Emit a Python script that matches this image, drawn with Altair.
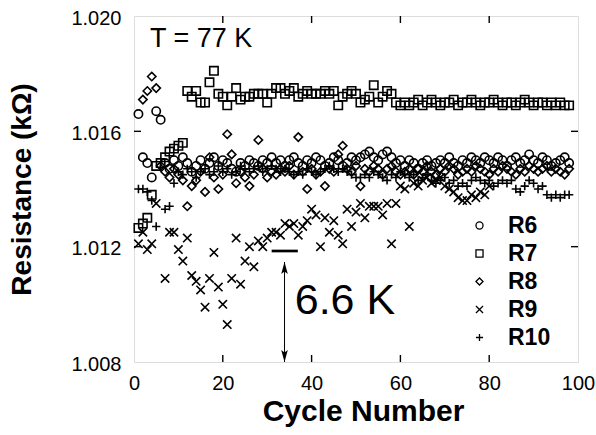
import altair as alt
import pandas as pd

cycles = list(range(1, 99))
series_names = ["R6", "R7", "R8", "R9", "R10"]

r6 = [1.0166, 1.0151, 1.0149, 1.0144, 1.0167, 1.0164, 1.0149, 1.0147, 1.0150, 1.0148,
      1.0151, 1.0149, 1.0146, 1.0148, 1.0150, 1.0147, 1.0149, 1.0151, 1.0148, 1.0150,
      1.0149, 1.0147, 1.0146, 1.0149, 1.0148, 1.0150, 1.0149, 1.0148, 1.0150, 1.0149,
      1.0151, 1.0149, 1.0150, 1.0148, 1.0150, 1.0151, 1.0149, 1.0148, 1.0150, 1.0149,
      1.0151, 1.0150, 1.0148, 1.0149, 1.0151, 1.0150, 1.0148, 1.0149, 1.0151, 1.0150,
      1.0151, 1.0152, 1.0153, 1.0151, 1.0150, 1.0152, 1.0153, 1.0151, 1.0149, 1.0150,
      1.0148, 1.0150, 1.0149, 1.0147, 1.0149, 1.0150, 1.0148, 1.0149, 1.0150, 1.0149,
      1.0151, 1.0149, 1.0148, 1.0150, 1.0149, 1.0151, 1.0150, 1.0149, 1.0151, 1.0150,
      1.0149, 1.0151, 1.0150, 1.0148, 1.0150, 1.0151, 1.0149, 1.0150, 1.0152, 1.0150,
      1.0149, 1.0151, 1.0150, 1.0148, 1.0149, 1.0150, 1.0151, 1.0149]

r7 = [1.01265, 1.0128, 1.0130, 1.0138, 1.0148, 1.0149, 1.0151, 1.0153, 1.0154, 1.0155,
      1.0156, 1.0174, 1.0172, 1.0174, 1.0170, 1.0170, 1.0177, 1.0181, 1.0173, 1.0172,
      1.0169, 1.0172, 1.0175, 1.0171, 1.0172, 1.0172, 1.0173, 1.0173, 1.0173, 1.0170,
      1.0173, 1.0175, 1.0175, 1.0173, 1.0174, 1.0175, 1.0172, 1.0173, 1.0174, 1.0173,
      1.0173, 1.0173, 1.0174, 1.0173, 1.0174, 1.0169, 1.0172, 1.0173, 1.0174, 1.0173,
      1.0170, 1.0171, 1.0172, 1.0176, 1.0170, 1.0172, 1.0174, 1.0173, 1.0170, 1.0169,
      1.0170, 1.0169, 1.0170, 1.0171, 1.0169, 1.0170, 1.0171, 1.0170, 1.0169, 1.0170,
      1.0170, 1.0171, 1.0169, 1.0170, 1.0170, 1.0171, 1.0170, 1.0169, 1.0170, 1.0170,
      1.0171, 1.0170, 1.0169, 1.0170, 1.0170, 1.0169, 1.0170, 1.0171, 1.0170, 1.0169,
      1.0170, 1.0170, 1.0169, 1.0170, 1.0169, 1.0170, 1.0169, 1.0169]

r8 = [None, 1.0171, 1.0174, 1.0179, 1.0175, 1.0148, 1.0146, 1.0144, 1.0147, 1.0145,
      1.0143, 1.0134, 1.0141, 1.0143, 1.0146, 1.0139, 1.0151, 1.0144, 1.0140, 1.0145,
      1.0159, 1.0152, 1.0142, 1.0146, 1.0144, 1.0141, 1.0145, 1.0157, 1.0147, 1.0144,
      1.0146, 1.0145, 1.0147, 1.0146, 1.0148, 1.0145, 1.0158, 1.0146, 1.0140, 1.0147,
      1.0145, 1.0146, 1.0141, 1.0147, 1.0146, 1.0152, 1.0155, 1.0147, 1.0146, 1.0148,
      1.0141, 1.0147, 1.0146, 1.0148, 1.0147, 1.0145, 1.0147, 1.0148, 1.0146, 1.0145,
      1.0146, 1.0147, 1.0145, 1.0147, 1.0146, 1.0148, 1.0146, 1.0145, 1.0147, 1.0146,
      1.0148, 1.0147, 1.0145, 1.0146, 1.0147, 1.0146, 1.0148, 1.0147, 1.0146, 1.0145,
      1.0147, 1.0146, 1.0148, 1.0147, 1.0146, 1.0145, 1.0147, 1.0146, 1.0148, 1.0147,
      1.0146, 1.0147, 1.0148, 1.0146, 1.0147, 1.0146, 1.0145, 1.0147]

r9 = [1.0121, 1.0125, 1.0119, 1.0121, 1.0135, None, 1.0109, 1.0125, 1.0125, 1.0119,
      1.0115, 1.0123, 1.0110, 1.0108, 1.0105, 1.0099, 1.0109, 1.0118, 1.0106, 1.0100,
      1.0093, 1.0109, 1.0123, 1.0107, 1.0115, 1.0120, 1.0113, 1.0122, 1.0120, 1.0123,
      1.0125, 1.0125, 1.0124, 1.0128, 1.0127, 1.0128, 1.0124, 1.0127, 1.0129, 1.0133,
      1.0131, 1.0120, 1.0130, 1.0125, 1.0129, 1.0124, 1.0121, 1.0133, 1.0127, 1.0132,
      1.0135, 1.0130, 1.0134, 1.0134, 1.0134, 1.0131, 1.0135, 1.0121, 1.0135, 1.0141,
      1.0140, 1.0127, 1.0142, 1.0141, 1.0143, 1.0144, 1.0142, 1.0143, 1.0144, 1.0141,
      1.0140, 1.0139, 1.0137, 1.0136, 1.0136, 1.0138, 1.0137, 1.0139, 1.0138, 1.0141,
      None, None, None, None, None, None, None, None, None, None,
      None, None, None, None, None, None, None, None]

r10 = [1.0140, 1.0140, 1.0139, 1.0136, 1.0127, None, 1.0133, 1.0134, 1.0142, 1.0146,
       1.0145, 1.0147, 1.0146, 1.0144, 1.0146, 1.0147, 1.0145, 1.0146, 1.0148, 1.0146,
       1.0147, 1.0145, 1.0146, 1.0148, 1.0147, 1.0146, 1.0147, 1.0148, 1.0146, 1.0147,
       1.0148, 1.0147, 1.0146, 1.0147, 1.0146, 1.0145, 1.0146, 1.0145, 1.0147, 1.0146,
       1.0145, 1.0146, 1.0147, 1.0148, 1.0147, 1.0146, 1.0147, 1.0146, 1.0145, 1.0144,
       1.0144, 1.0145, 1.0144, 1.0146, 1.0145, 1.0144, 1.0143, 1.0145, 1.0144, 1.0146,
       1.0145, 1.0144, 1.0145, 1.0143, 1.0144, 1.0145, 1.0143, 1.0142, 1.0143, 1.0144,
       1.0142, 1.0143, 1.0141, 1.0142, 1.0141, 1.0143, 1.0144, 1.0143, 1.0142, 1.0143,
       1.0141, 1.0142, 1.0143, 1.0142, 1.0143, 1.0140, 1.0139, 1.0141, 1.0143, 1.0142,
       1.0140, 1.0141, 1.0138, 1.0137, 1.0138, 1.0137, 1.0138, 1.0138]

x_tick_values = [0, 20, 40, 60, 80, 100]
y_tick_values = [1.008, 1.012, 1.016, 1.020]
x_inner_ticks = [20, 40, 60, 80]
y_inner_ticks = [1.012, 1.016]

# annotations
temp_label = "T = 77 K"
temp_pos = (3.6, 1.0192)
delta_label = "6.6 K"
delta_pos = (36.2, 1.0101)
bar_span = (31.0, 36.9, 1.01185)
arrow_span = (33.9, 1.01147, 1.008)

FONT = "Liberation Sans"
shape_range = ["circle", "square", "diamond",
               "M-1,-1L1,1M-1,1L1,-1", "M-1,0L1,0M0,-1L0,1"]

rows = []
for name, vals in zip(series_names, [r6, r7, r8, r9, r10]):
    for c, v in zip(cycles, vals):
        if v is not None:
            rows.append({"cycle": c, "resistance": v, "series": name})
df = pd.DataFrame(rows)

xscale = alt.Scale(domain=[0, 100], nice=False)
yscale = alt.Scale(domain=[1.008, 1.020], nice=False, zero=False)

points = alt.Chart(df).mark_point(filled=False, color="black", strokeWidth=1.6, opacity=1, size=70).encode(
    x=alt.X("cycle:Q", scale=xscale,
            axis=alt.Axis(values=x_tick_values, ticks=False, domain=False, grid=False,
                          labelFlush=False,
                          labelFontSize=20, labelPadding=11, labelFont=FONT, labelColor="black",
                          title="Cycle Number", titleFont=FONT, titleFontSize=30,
                          titleFontWeight="bold", titleColor="black",
                          titleX=229, titleY=58, titleBaseline="alphabetic", titleAlign="center")),
    y=alt.Y("resistance:Q", scale=yscale,
            axis=alt.Axis(values=y_tick_values, format=".3f", ticks=False, domain=False, grid=False,
                          labelFlush=False, labelOffset=2,
                          labelFontSize=20, labelPadding=13, labelFont=FONT, labelColor="black",
                          title="Resistance (kΩ)", titleFont=FONT, titleFontSize=28,
                          titleFontWeight="bold", titleColor="black",
                          titleX=-112, titleY=173, titleAngle=-90,
                          titleBaseline="middle", titleAlign="center")),
    shape=alt.Shape("series:N", scale=alt.Scale(domain=series_names, range=shape_range),
                    legend=alt.Legend(title=None, orient="none", legendX=334, legendY=198,
                                      labelFontSize=23, labelFontWeight="bold", labelFont=FONT,
                                      labelColor="black", symbolSize=50, symbolStrokeWidth=1.3,
                                      symbolStrokeColor="black", symbolFillColor="transparent",
                                      labelOffset=17, rowPadding=4)),
)

xt = pd.DataFrame({"t": x_inner_ticks})
yt = pd.DataFrame({"t": y_inner_ticks})
tick_style = dict(color="black", strokeWidth=1.4)
bottom_ticks = alt.Chart(xt).mark_rule(**tick_style).encode(
    x=alt.X("t:Q", scale=xscale), y=alt.value(346), y2=alt.value(339))
top_ticks = alt.Chart(xt).mark_rule(**tick_style).encode(
    x=alt.X("t:Q", scale=xscale), y=alt.value(0), y2=alt.value(7))
left_ticks = alt.Chart(yt).mark_rule(**tick_style).encode(
    y=alt.Y("t:Q", scale=yscale), x=alt.value(0), x2=alt.value(7))
right_ticks = alt.Chart(yt).mark_rule(**tick_style).encode(
    y=alt.Y("t:Q", scale=yscale), x=alt.value(444), x2=alt.value(437))

ann = pd.DataFrame({"x": [temp_pos[0], delta_pos[0]], "y": [temp_pos[1], delta_pos[1]],
                    "label": [temp_label, delta_label]})
temp_text = alt.Chart(ann.iloc[[0]]).mark_text(
    font=FONT, fontSize=27, align="left", baseline="middle", color="black").encode(
    x=alt.X("x:Q", scale=xscale), y=alt.Y("y:Q", scale=yscale), text="label:N")
delta_text = alt.Chart(ann.iloc[[1]]).mark_text(
    font=FONT, fontSize=43, align="left", baseline="middle", color="black").encode(
    x=alt.X("x:Q", scale=xscale), y=alt.Y("y:Q", scale=yscale), text="label:N")

bar_df = pd.DataFrame({"x": [bar_span[0]], "x2": [bar_span[1]], "y": [bar_span[2]]})
bar = alt.Chart(bar_df).mark_rule(color="black", strokeWidth=2.7).encode(
    x=alt.X("x:Q", scale=xscale), x2="x2:Q", y=alt.Y("y:Q", scale=yscale))

arrow_df = pd.DataFrame({"x": [arrow_span[0]], "y": [arrow_span[1]], "y2": [arrow_span[2]]})
arrow_line = alt.Chart(arrow_df).mark_rule(color="black", strokeWidth=1).encode(
    x=alt.X("x:Q", scale=xscale), y=alt.Y("y:Q", scale=yscale), y2="y2:Q")
head_up = alt.Chart(arrow_df).mark_point(
    shape="M0,-1L-0.55,1L0,0.6L0.55,1Z", filled=True, color="black", size=144, yOffset=6,
    opacity=1).encode(x=alt.X("x:Q", scale=xscale), y=alt.Y("y:Q", scale=yscale))
head_down = alt.Chart(arrow_df).mark_point(
    shape="M0,1L-0.55,-1L0,-0.6L0.55,-1Z", filled=True, color="black", size=144, yOffset=-6,
    opacity=1).encode(x=alt.X("x:Q", scale=xscale), y=alt.Y("y2:Q", scale=yscale))

chart = alt.layer(
    points, bottom_ticks, top_ticks, left_ticks, right_ticks,
    temp_text, delta_text, bar, arrow_line, head_up, head_down
).properties(
    width=444, height=346,
    autosize=alt.AutoSizeParams(type="none"),
    padding={"left": 134, "top": 16, "right": 18, "bottom": 73},
).configure_view(stroke="black", strokeWidth=1.5).configure(background="white")

chart.save("out.html", embed_options={"renderer": "svg", "actions": False})
